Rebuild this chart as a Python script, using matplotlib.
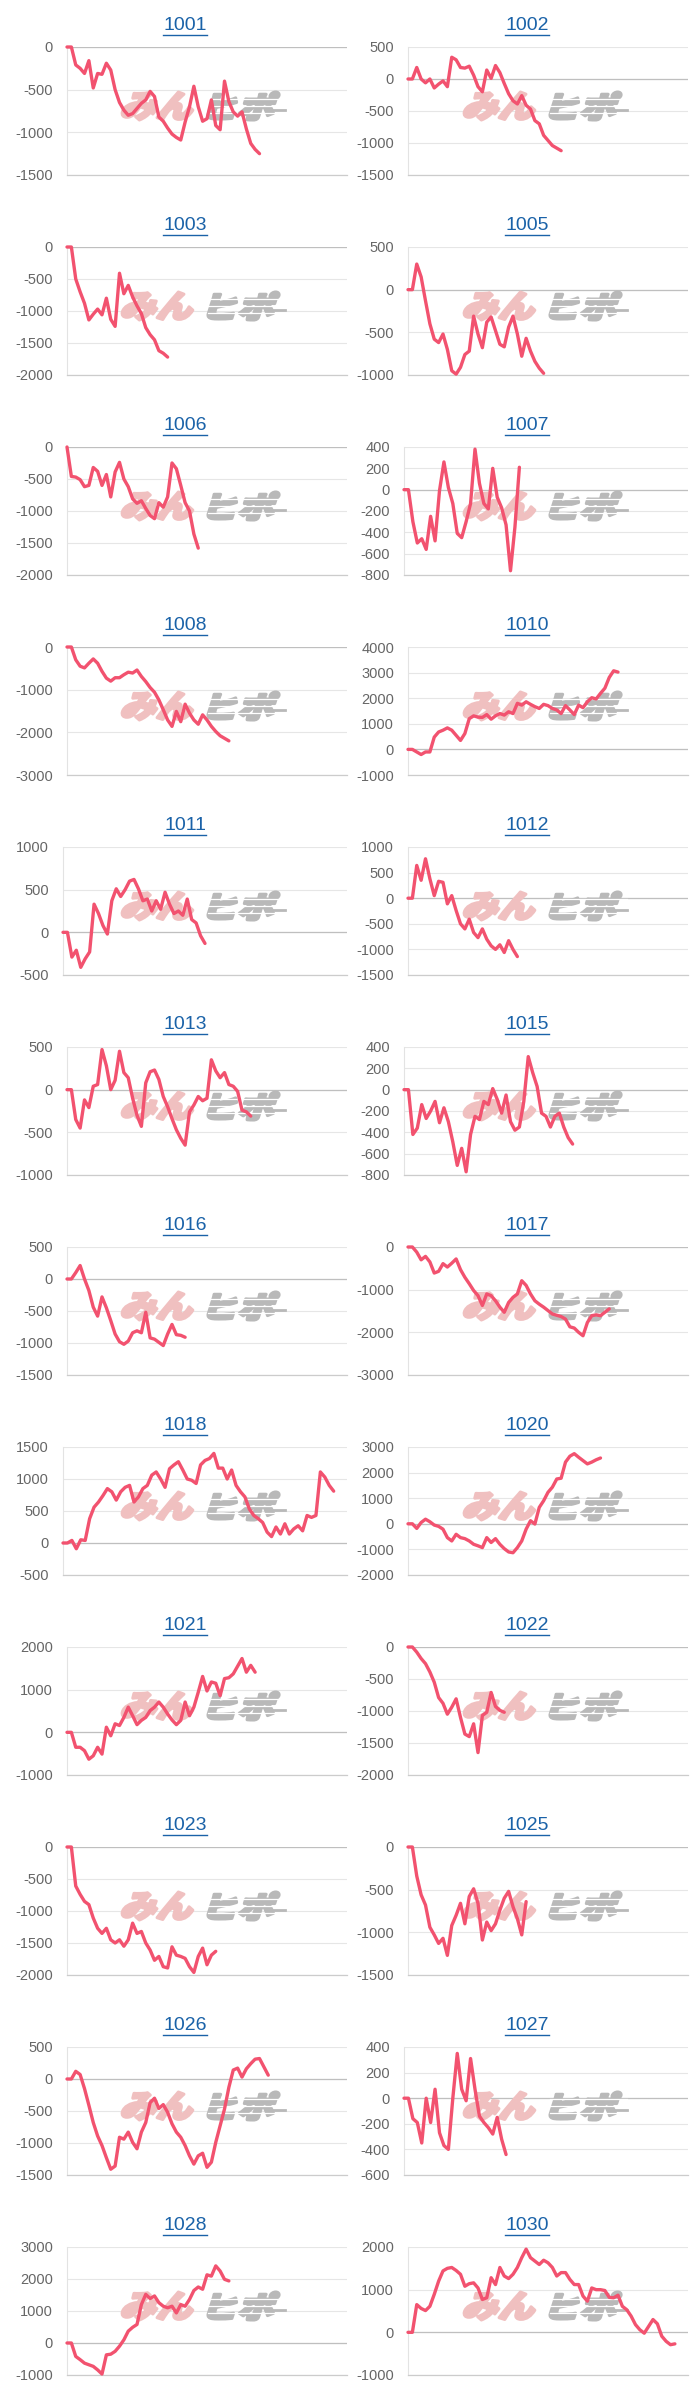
import numpy as np
import matplotlib
matplotlib.use("Agg")
import matplotlib.pyplot as plt
from matplotlib.textpath import TextPath
from matplotlib.patches import PathPatch
from matplotlib.font_manager import FontProperties
from matplotlib.transforms import Affine2D
from matplotlib.lines import Line2D

plt.rcParams['font.family'] = ['Liberation Sans', 'DejaVu Sans']
plt.rcParams['axes.unicode_minus'] = False

# 銘柄コード
codes = ['1001', '1002', '1003', '1005', '1006', '1007', '1008', '1010',
         '1011', '1012', '1013', '1015', '1016', '1017', '1018', '1020',
         '1021', '1022', '1023', '1025', '1026', '1027', '1028', '1030']

# y軸 (上端, 下端, 間隔)
y_top = [0, 500, 0, 500, 0, 400, 0, 4000, 1000, 1000, 500, 400,
         500, 0, 1500, 3000, 2000, 0, 0, 0, 500, 400, 3000, 2000]
y_bottom = [-1500, -1500, -2000, -1000, -2000, -800, -3000, -1000, -500, -1500, -1000, -800,
            -1500, -3000, -500, -2000, -1000, -2000, -2000, -1500, -1500, -600, -1000, -1000]
y_step = [500, 500, 500, 500, 500, 200, 1000, 1000, 500, 500, 500, 200,
          500, 1000, 500, 1000, 1000, 500, 500, 500, 500, 200, 1000, 1000]

n_days = 65

s1001 = [0, 0, -210, -250, -310, -160, -480, -310, -320, -190, -270, -500, -650, -740, -800,
         -780, -720, -660, -620, -520, -580, -820, -870, -950, -1020, -1060, -1090, -880, -700,
         -460, -700, -870, -840, -620, -920, -970, -400, -640, -760, -810, -760, -960, -1130,
         -1200, -1250]
s1002 = [0, 0, 180, 0, -60, 0, -140, -80, -30, -120, 340, 300, 180, 170, 200, 60, -120, -200,
         140, 10, 210, 100, -70, -230, -340, -390, -260, -410, -470, -650, -700, -880, -960,
         -1040, -1080, -1120]
s1003 = [0, 0, -500, -700, -880, -1140, -1050, -970, -1060, -800, -1130, -1240, -410, -730,
         -600, -780, -920, -1040, -1260, -1370, -1450, -1620, -1660, -1720]
s1005 = [0, 0, 300, 150, -130, -400, -580, -620, -520, -700, -950, -990, -910, -760, -720,
         -310, -520, -680, -380, -320, -480, -640, -670, -440, -310, -520, -780, -570, -720,
         -840, -920, -980]
s1006 = [0, -460, -470, -510, -620, -600, -320, -380, -600, -430, -780, -390, -240, -500,
         -620, -810, -880, -840, -960, -1070, -1120, -870, -940, -780, -250, -340, -600, -870,
         -1000, -1360, -1580]
s1007 = [0, 0, -300, -500, -460, -560, -250, -480, -10, 260, 20, -130, -410, -450, -300, -130,
         380, 60, -130, -180, 200, -70, -170, -330, -760, -350, 210]
s1008 = [0, 0, -300, -450, -490, -380, -280, -380, -570, -730, -800, -720, -720, -650, -590,
         -610, -540, -690, -810, -950, -1060, -1240, -1470, -1710, -1860, -1510, -1750, -1340,
         -1550, -1710, -1810, -1590, -1710, -1860, -1980, -2080, -2140, -2200]
s1010 = [0, 0, -100, -200, -100, -100, 480, 680, 750, 840, 750, 550, 350, 620, 1200, 1310,
         1260, 1250, 1360, 1180, 1310, 1400, 1340, 1470, 1400, 1800, 1730, 1860, 1760, 1670,
         1600, 1760, 1710, 1600, 1540, 1400, 1710, 1540, 1360, 1730, 1630, 1860, 2020, 1970,
         2190, 2390, 2810, 3070, 3020]
s1011 = [0, 0, -290, -210, -410, -310, -230, 330, 220, 80, -20, 370, 510, 420, 500, 600, 620,
         510, 370, 390, 250, 370, 270, 470, 330, 220, 250, 200, 390, 150, 110, -40, -130]
s1012 = [0, 0, 640, 350, 770, 380, 50, 330, 310, -110, 50, -240, -500, -600, -410, -670, -770,
         -600, -800, -930, -1000, -910, -1060, -830, -1000, -1140]
s1013 = [0, 0, -350, -450, -120, -210, 40, 60, 470, 280, 0, 110, 450, 200, 140, -100, -300,
         -430, 80, 210, 230, 120, -80, -200, -340, -470, -570, -650, -260, -180, -80, -130,
         -100, 350, 220, 140, 200, 60, 40, -20, -240, -260, -310]
s1015 = [0, 0, -420, -360, -140, -270, -200, -110, -310, -170, -300, -490, -710, -550, -770,
         -420, -250, -280, -110, -140, 10, -90, -220, -50, -300, -380, -350, -110, 310, 160, 30,
         -220, -250, -350, -250, -220, -350, -450, -510]
s1016 = [0, 0, 100, 210, 0, -180, -440, -580, -280, -450, -650, -860, -980, -1020, -970, -840,
         -810, -840, -520, -920, -940, -990, -1040, -860, -710, -870, -880, -910]
s1017 = [0, 0, -120, -300, -220, -350, -610, -570, -390, -470, -380, -280, -530, -710, -860,
         -1020, -1140, -1370, -1100, -1140, -1260, -1410, -1530, -1300, -1180, -1100, -790,
         -900, -1100, -1260, -1340, -1410, -1490, -1570, -1600, -1630, -1690, -1870, -1900,
         -2000, -2080, -1770, -1610, -1590, -1610, -1530, -1450]
s1018 = [0, 0, 40, -90, 50, 40, 380, 560, 640, 740, 850, 800, 670, 800, 870, 900, 640, 720,
         850, 900, 1060, 1110, 1000, 870, 1160, 1220, 1270, 1140, 1000, 980, 930, 1220, 1290,
         1320, 1400, 1170, 1170, 1000, 1140, 900, 800, 720, 530, 430, 380, 320, 170, 100, 250,
         140, 300, 140, 220, 270, 190, 430, 400, 430, 1110, 1030, 900, 810]
s1020 = [0, 0, -180, 50, 180, 80, -50, -100, -210, -540, -670, -410, -540, -580, -670, -800,
         -860, -930, -540, -730, -580, -800, -970, -1100, -1130, -930, -670, -210, 120, -10,
         640, 900, 1230, 1430, 1750, 1780, 2410, 2640, 2740, 2600, 2470, 2340, 2410, 2500, 2570]
s1021 = [0, 0, -350, -350, -430, -630, -550, -350, -510, 120, -80, 200, 160, 350, 590, 390,
         180, 280, 350, 510, 590, 710, 590, 430, 290, 180, 280, 710, 390, 590, 940, 1310, 970,
         1180, 1150, 860, 1260, 1280, 1370, 1550, 1730, 1410, 1570, 1410]
s1022 = [0, 0, -80, -180, -260, -390, -550, -790, -880, -1050, -940, -810, -1100, -1360, -1400,
         -1200, -1650, -1070, -1020, -710, -930, -990, -1020]
s1023 = [0, 0, -610, -740, -850, -900, -1110, -1270, -1350, -1270, -1450, -1500, -1450, -1550,
         -1450, -1190, -1350, -1320, -1500, -1610, -1770, -1710, -1870, -1890, -1560, -1690,
         -1710, -1740, -1870, -1960, -1710, -1580, -1840, -1690, -1630]
s1025 = [0, 0, -340, -560, -680, -940, -1030, -1130, -1070, -1270, -920, -800, -660, -900,
         -580, -490, -660, -1090, -880, -980, -900, -740, -600, -520, -700, -840, -1030, -640]
s1026 = [0, 0, 120, 70, -150, -410, -680, -890, -1040, -1230, -1410, -1360, -910, -940, -830,
         -990, -1090, -830, -680, -370, -300, -460, -400, -520, -700, -830, -910, -1040, -1200,
         -1330, -1200, -1160, -1380, -1300, -990, -730, -470, -130, 140, 170, 30, 160, 240, 310,
         320, 190, 60]
s1027 = [0, 0, -160, -190, -350, 0, -190, 70, -270, -370, -400, 0, 350, 70, -20, 310, 70, -140,
         -190, -230, -280, -150, -320, -440]
s1028 = [0, 0, -420, -520, -630, -680, -730, -840, -970, -370, -350, -260, -100, 100, 370, 490,
         580, 1200, 1520, 1390, 1470, 1260, 1150, 1100, 1150, 940, 1200, 1150, 1360, 1640, 1750,
         1680, 2130, 2090, 2410, 2250, 1990, 1940]
s1030 = [0, 0, 650, 560, 510, 610, 890, 1200, 1440, 1500, 1520, 1450, 1360, 1080, 1140, 1160,
         1040, 770, 810, 1280, 1120, 1520, 1320, 1260, 1360, 1520, 1750, 1950, 1750, 1670, 1590,
         1690, 1630, 1520, 1320, 1400, 1400, 1240, 1120, 1120, 850, 730, 1040, 1000, 1000, 980,
         820, 810, 870, 610, 530, 380, 180, 60, -20, 140, 300, 200, -90, -210, -290, -270]

series = [s1001, s1002, s1003, s1005, s1006, s1007, s1008, s1010, s1011, s1012, s1013, s1015,
          s1016, s1017, s1018, s1020, s1021, s1022, s1023, s1025, s1026, s1027, s1028, s1030]

W, H = 700, 2400
fig = plt.figure(figsize=(W / 100, H / 100), dpi=100)
fig.patch.set_facecolor('white')

line_color = '#f2526f'
wm_font = FontProperties(family='Noto Sans CJK JP', weight='black')
px2fig = Affine2D().scale(1 / W, 1 / H) + fig.transFigure


def stamp(ax, text, x0, x1, ytop, ybot, color):
    # 透かしロゴ (ピクセル座標で箱に合わせる)
    tp = TextPath((0, 0), text, size=40, prop=wm_font)
    ext = tp.get_extents()
    sk = np.tan(np.radians(14))
    sx = (x1 - x0) / (ext.width + ext.height * sk)
    sy = (ybot - ytop) / ext.height
    tr = (Affine2D().translate(-ext.x0, -ext.y0).skew(sk, 0).scale(sx, sy)
          .translate(x0, H - ybot) + px2fig)
    ax.add_patch(PathPatch(tp, transform=tr, facecolor=color, edgecolor=color, lw=2.2,
                           joinstyle='round', zorder=1.5, clip_on=False))


title_texts = []
for i, code in enumerate(codes):
    row, col = divmod(i, 2)
    yo = 200 * row
    ticks = np.arange(y_bottom[i], y_top[i] + 1, y_step[i])
    maxlen = max(len(str(t)) for t in ticks)
    left = (67 if col == 0 else 408) - (0 if maxlen >= 5 else 4)
    right = 347 if col == 0 else 688
    top, bot = yo + 47, yo + 175
    ax = fig.add_axes([left / W, 1 - bot / H, (right - left) / W, (bot - top) / H])
    ax.set_facecolor('none')
    vals = series[i]
    ax.plot(np.arange(len(vals)), vals, color=line_color, lw=2.4,
            solid_joinstyle='round', solid_capstyle='round', zorder=3, clip_on=False)
    ax.set_xlim(0, n_days - 1)
    ax.set_ylim(y_bottom[i], y_top[i])
    ax.set_yticks(ticks)
    ax.set_yticklabels([str(t) for t in ticks])
    ax.set_xticks([])
    ax.set_axisbelow(True)
    ax.grid(axis='y', color='#e6e6e6', lw=0.8)
    if y_bottom[i] < 0 <= y_top[i]:
        ax.axhline(0, color='#bfbfbf', lw=0.9, zorder=1)
    for s in ['top', 'right']:
        ax.spines[s].set_visible(False)
    ax.spines['left'].set_color('#e3e3e3')
    ax.spines['left'].set_linewidth(0.8)
    ax.spines['bottom'].set_color('#cccccc')
    ax.spines['bottom'].set_linewidth(0.9)
    ax.tick_params(axis='y', length=0, pad=10, labelsize=10.5, labelcolor='#666666')

    # 透かし「みん」「ヒポ」とスピード線
    wx = 120 if col == 0 else 462
    stamp(ax, 'みん', wx, wx + 78, yo + 92, yo + 120, '#f0c0c0')
    stamp(ax, 'ヒポ', wx + 86, wx + 160, yo + 92, yo + 120, '#b9b9b9')
    for k, (dy, x_end) in enumerate([(99, 165), (106, 163), (113, 160)]):
        ax.add_artist(Line2D([wx + 88, wx + x_end], [H - (yo + dy), H - (yo + dy)],
                             transform=px2fig, color='white', lw=0.9, zorder=1.6,
                             clip_on=False))
    ax.add_artist(Line2D([wx + 150, wx + 165], [H - (yo + 110), H - (yo + 110)],
                         transform=px2fig, color='#b9b9b9', lw=2.0, zorder=1.5,
                         clip_on=False))

    tx = 185 if col == 0 else 527
    t = fig.text(tx / W, 1 - (yo + 25) / H, code, ha='center', va='center',
                 fontsize=14, color='#1a62a8')
    title_texts.append(t)

# タイトルの下線
fig.canvas.draw()
rend = fig.canvas.get_renderer()
for t in title_texts:
    bb = t.get_window_extent(renderer=rend)
    yl = bb.y0 - 1
    fig.add_artist(Line2D([bb.x0 / W, bb.x1 / W], [yl / H, yl / H],
                          transform=fig.transFigure, color='#1a62a8', lw=1.0))

fig.savefig('out.png', dpi=100, facecolor='white')
